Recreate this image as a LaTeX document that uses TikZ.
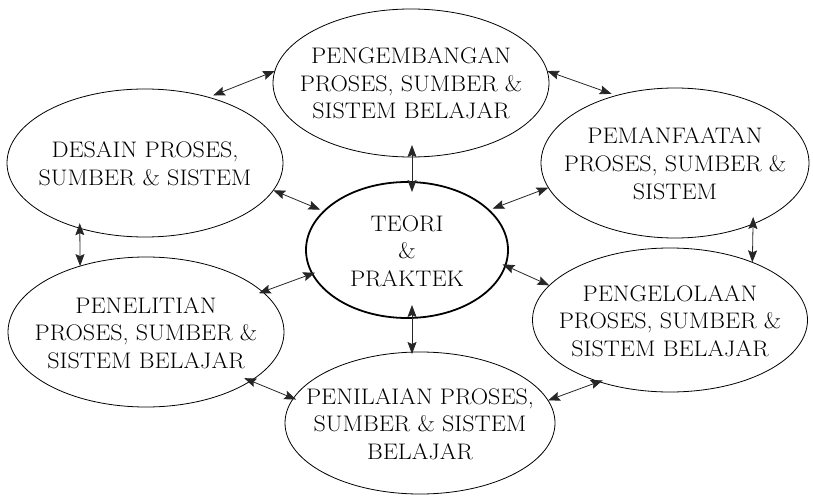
\documentclass[tikz,border=0pt]{standalone}
\usetikzlibrary{shapes.geometric,arrows.meta}
% centred multi-line label that does not widen its ellipse;
% the extra height drops the lines slightly inside the ellipse
\newcommand\elltext[1]{\makebox[0pt]{\scalebox{1.07}[1]{\raisebox{0pt}[\dimexpr\height+6pt\relax][\depth]{\begin{tabular}{@{}c@{}}#1\end{tabular}}}}}
\begin{document}
\begin{tikzpicture}[x=1pt,y=-1pt,
  bubble/.style={ellipse,draw,line width=0.8pt,inner sep=0pt,outer sep=0pt,
    font=\fontsize{22.5}{27.5}\selectfont},
  core/.style={bubble,line width=1.8pt},
  link/.style={{Stealth[length=12pt,width=9pt,inset=2pt]}-{Stealth[length=12pt,width=9pt,inset=2pt]},
    line width=0.8pt,draw=black!85}]
\useasboundingbox (0,0) rectangle (813,497);

% the seven domains
\node[bubble,minimum width=276pt,minimum height=148pt] (pg) at (411,83)
  {\elltext{PENGEMBANGAN\\PROSES, SUMBER \&\\SISTEM BELAJAR}};
\node[bubble,minimum width=276pt,minimum height=148pt] (ds) at (145,163)
  {\elltext{DESAIN PROSES,\\SUMBER \& SISTEM}};
\node[bubble,minimum width=268pt,minimum height=150pt] (pm) at (675,163)
  {\elltext{PEMANFAATAN\\PROSES, SUMBER \&\\SISTEM}};
\node[core,minimum width=202pt,minimum height=136pt] (tp) at (407,250)
  {\elltext{TEORI\\\&\\PRAKTEK}};
\node[bubble,minimum width=276pt,minimum height=150pt] (pn) at (146,332)
  {\elltext{PENELITIAN\\PROSES, SUMBER \&\\SISTEM BELAJAR}};
\node[bubble,minimum width=275pt,minimum height=144pt] (pl) at (670,320)
  {\elltext{PENGELOLAAN\\PROSES, SUMBER \&\\SISTEM BELAJAR}};
\node[bubble,minimum width=270pt,minimum height=142pt] (pi) at (420,423)
  {\elltext{PENILAIAN PROSES,\\SUMBER \& SISTEM\\BELAJAR}};

% two-way links
\draw[link,shorten >=5pt] (pg.175) -- (ds.46);
\draw[link,shorten >=5pt] (pg.5) -- (pm.131);
\draw[link,shorten <=-12pt,shorten >=-10pt] ([xshift=1pt]pg.south) -- ([xshift=1pt]pg.south |- tp.north);
\draw[link,shorten <=-13pt,shorten >=-2pt] ([xshift=5pt]tp.south) -- ([xshift=5pt]tp.south |- pi.north);
\draw[link,shorten >=4pt] (ds.-12) -- (tp.155);
\draw[link,shorten >=4pt] (pm.191) -- (tp.26);
\draw[link,shorten <=-5pt] (ds.225) -- (pn.135);
\draw[link,shorten <=-7pt] (pm.-38) -- (pl.35);
\draw[link,shorten <=-3pt,shorten >=-4pt] (tp.194) -- (pn.19);
\draw[link,shorten <=-3pt] (tp.-9) -- (pl.164);
\draw[link,shorten <=-7pt,shorten >=-3pt] (pn.-25) -- (pi.169);
\draw[link,shorten <=-4pt] (pl.221) -- (pi.10);
\end{tikzpicture}
\end{document}
